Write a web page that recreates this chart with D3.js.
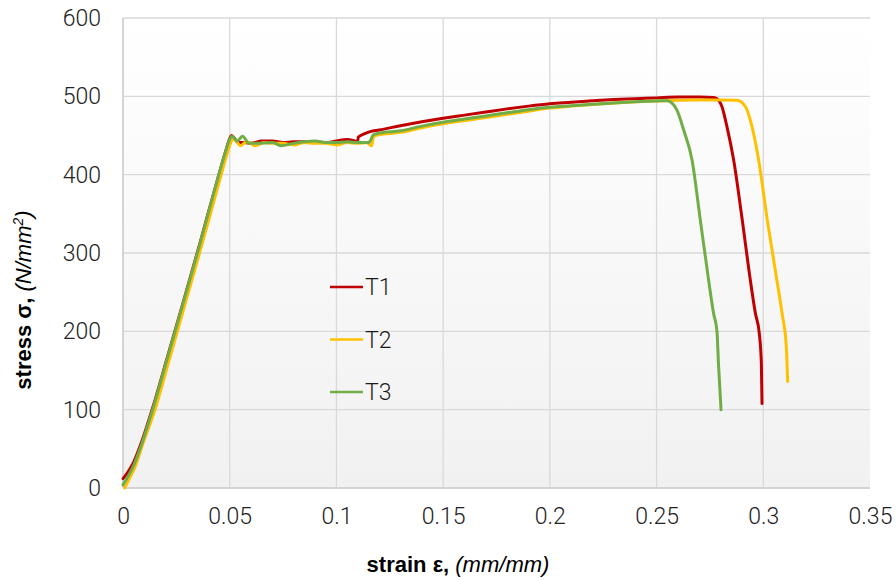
<!DOCTYPE html>
<html>
<head>
<meta charset="utf-8">
<script src="https://cdn.jsdelivr.net/npm/d3@7"></script>
<style>
  html, body { margin: 0; padding: 0; background: #ffffff; }
  svg { display: block; font-family: "Liberation Sans", Arial, sans-serif; }
</style>
</head>
<body>
<svg id="chart" width="896" height="580"></svg>
<script>
// Tensile test results: engineering stress vs strain for three specimens
const seriesNames = ["T1", "T2", "T3"];
const seriesColors = ["#c00000", "#ffc000", "#70ad47"];

const t1Strain = [0, 0.002, 0.005, 0.009, 0.0141, 0.0206, 0.0281, 0.0361, 0.0445, 0.048, 0.0500, 0.0508, 0.052, 0.054, 0.057, 0.06, 0.065, 0.07, 0.075, 0.08, 0.085, 0.09, 0.095, 0.1, 0.105, 0.1085, 0.1098, 0.1103, 0.113, 0.1158, 0.12, 0.13, 0.14, 0.15, 0.16, 0.17, 0.18, 0.19, 0.2, 0.21, 0.22, 0.23, 0.24, 0.25, 0.26, 0.27, 0.2767, 0.2783, 0.2806, 0.283, 0.2861, 0.290, 0.2939, 0.2963, 0.2981, 0.2991, 0.2994];
const t1Stress = [12, 19, 33, 61, 104, 165, 236, 313, 396, 429, 446, 450, 447, 441, 441, 440, 443, 443, 441, 442, 442, 442, 441, 443, 445, 443, 442, 448, 452, 455, 457, 462.5, 467.5, 472, 476, 480, 484, 487.5, 490.5, 492.5, 494.5, 496, 497, 498, 499, 499, 498.5, 497, 487, 461, 419, 345, 266, 223, 198, 159, 108];

const t2Strain = [0.0008, 0.003, 0.0055, 0.0095, 0.015, 0.0215, 0.029, 0.037, 0.0453, 0.0487, 0.0505, 0.0515, 0.053, 0.055, 0.058, 0.062, 0.066, 0.07, 0.075, 0.08, 0.085, 0.09, 0.095, 0.1, 0.105, 0.11, 0.114, 0.1165, 0.1172, 0.118, 0.12, 0.13, 0.14, 0.15, 0.16, 0.17, 0.18, 0.19, 0.2, 0.21, 0.22, 0.23, 0.24, 0.25, 0.26, 0.27, 0.28, 0.2877, 0.2916, 0.2939, 0.2978, 0.302, 0.3064, 0.3088, 0.3108, 0.3114];
const t2Stress = [0, 12, 26, 58, 100, 162, 234, 311, 393, 426, 441, 446, 443, 437, 442, 437, 441, 440, 440, 438, 441, 440, 440, 438, 441, 440, 441, 437, 446, 450, 451, 454, 460, 465, 469, 473, 477, 481, 485, 487.5, 489.5, 491.5, 493, 494, 495, 495.3, 495.3, 495, 487, 470, 419, 340, 265, 223, 180, 136];

const t3Strain = [0, 0.0047, 0.0141, 0.0206, 0.0281, 0.0361, 0.0445, 0.048, 0.0500, 0.051, 0.0535, 0.056, 0.059, 0.063, 0.07, 0.074, 0.08, 0.085, 0.09, 0.095, 0.1, 0.105, 0.11, 0.115, 0.1158, 0.1173, 0.12, 0.13, 0.14, 0.15, 0.16, 0.17, 0.18, 0.19, 0.2, 0.21, 0.22, 0.23, 0.24, 0.25, 0.2549, 0.2564, 0.2595, 0.2627, 0.2666, 0.2705, 0.2744, 0.2767, 0.2783, 0.279, 0.2802];
const t3Stress = [4, 27, 102, 164, 235, 312, 396, 429, 445, 449, 443, 449, 440, 440, 441, 437, 440, 442, 443, 441, 441, 442, 441, 441, 443, 451, 453, 456, 462, 467, 471, 475, 479, 483, 486, 488, 490, 491.5, 493, 494, 494.5, 493, 482.6, 457, 419, 342, 265, 223, 200, 159, 100];

const xTicks = [0, 0.05, 0.1, 0.15, 0.2, 0.25, 0.3, 0.35];
const yTicks = [0, 100, 200, 300, 400, 500, 600];

const strains = [t1Strain, t2Strain, t3Strain];
const stresses = [t1Stress, t2Stress, t3Stress];

const margin = { left: 123, top: 18, right: 26, bottom: 92 };
const W = 896, H = 580;
const iw = W - margin.left - margin.right;
const ih = H - margin.top - margin.bottom;

const svg = d3.select("#chart");
const x = d3.scaleLinear().domain([0, 0.35]).range([0, iw]);
const y = d3.scaleLinear().domain([0, 600]).range([ih, 0]);

// plot area background: soft vertical gradient
const defs = svg.append("defs");
const grad = defs.append("linearGradient").attr("id", "plotBg")
  .attr("x1", 0).attr("y1", 0).attr("x2", 0).attr("y2", 1);
grad.append("stop").attr("offset", "0%").attr("stop-color", "#ffffff");
grad.append("stop").attr("offset", "100%").attr("stop-color", "#f1f1f1");

const g = svg.append("g").attr("transform", `translate(${margin.left},${margin.top})`);
g.append("rect").attr("width", iw).attr("height", ih).attr("fill", "url(#plotBg)");

// gridlines
g.append("g")
  .selectAll("line.h").data(yTicks).join("line")
  .attr("x1", 0).attr("x2", iw)
  .attr("y1", d => y(d)).attr("y2", d => y(d))
  .attr("stroke", "#d9d9d9").attr("stroke-width", 1.3);
g.append("g")
  .selectAll("line.v").data(xTicks.filter(d => d < 0.35)).join("line")
  .attr("x1", d => x(d)).attr("x2", d => x(d))
  .attr("y1", 0).attr("y2", ih)
  .attr("stroke", "#d9d9d9").attr("stroke-width", 1.3);

// axes
const xAxis = d3.axisBottom(x).tickValues(xTicks).tickSize(0).tickPadding(20)
  .tickFormat(d => d3.format("")(+d.toFixed(2)));
const yAxis = d3.axisLeft(y).tickValues(yTicks).tickSize(0).tickPadding(22);

const gx = g.append("g").attr("transform", `translate(0,${ih})`).call(xAxis);
const gy = g.append("g").call(yAxis);
[gx, gy].forEach(a => {
  a.select(".domain").attr("stroke", "#cfcfcf").attr("stroke-width", 1.5);
  a.selectAll("text").attr("fill", "#222222").attr("font-size", 23)
    .attr("font-family", "Roboto, 'Liberation Sans', Arial, sans-serif")
    .attr("font-weight", 300);
});
gx.select(".domain").attr("d", `M0,0H${iw}`);
gy.select(".domain").attr("d", `M0,${ih}V0`);

// curves
const line = d3.line().x(d => x(d[0])).y(d => y(d[1])).curve(d3.curveMonotoneX);
seriesNames.forEach((name, i) => {
  const pts = strains[i].map((s, k) => [s, stresses[i][k]]);
  g.append("path").datum(pts)
    .attr("fill", "none")
    .attr("stroke", seriesColors[i])
    .attr("stroke-width", 3)
    .attr("stroke-linejoin", "round")
    .attr("stroke-linecap", "round")
    .attr("d", line);
});

// legend
const legend = svg.append("g").attr("transform", "translate(330,287)");
seriesNames.forEach((name, i) => {
  const row = legend.append("g").attr("transform", `translate(0,${i * 52.5})`);
  row.append("line").attr("x1", 0).attr("x2", 33).attr("y1", 0).attr("y2", 0)
    .attr("stroke", seriesColors[i]).attr("stroke-width", 2.6);
  row.append("text").attr("x", 35).attr("y", 8).text(name)
    .attr("font-size", 23).attr("fill", "#1a1a1a")
    .attr("font-family", "Roboto, 'Liberation Sans', Arial, sans-serif")
    .attr("font-weight", 300);
});

// axis titles
const xt = svg.append("text").attr("x", 458).attr("y", 572)
  .attr("text-anchor", "middle").attr("font-size", 22).attr("fill", "#000");
xt.append("tspan").attr("font-weight", "bold").text("strain ε, ");
xt.append("tspan").attr("font-style", "italic").text("(mm/mm)");

const yt = svg.append("text").attr("transform", "translate(31,300) rotate(-90)")
  .attr("text-anchor", "middle").attr("font-size", 22).attr("fill", "#000");
yt.append("tspan").attr("font-weight", "bold").text("stress σ, ");
yt.append("tspan").attr("font-style", "italic").text("(N/mm");
yt.append("tspan").attr("font-style", "italic").attr("font-size", 14).attr("dy", -8).text("2");
yt.append("tspan").attr("font-style", "italic").attr("dy", 8).text(")");
</script>
</body>
</html>
